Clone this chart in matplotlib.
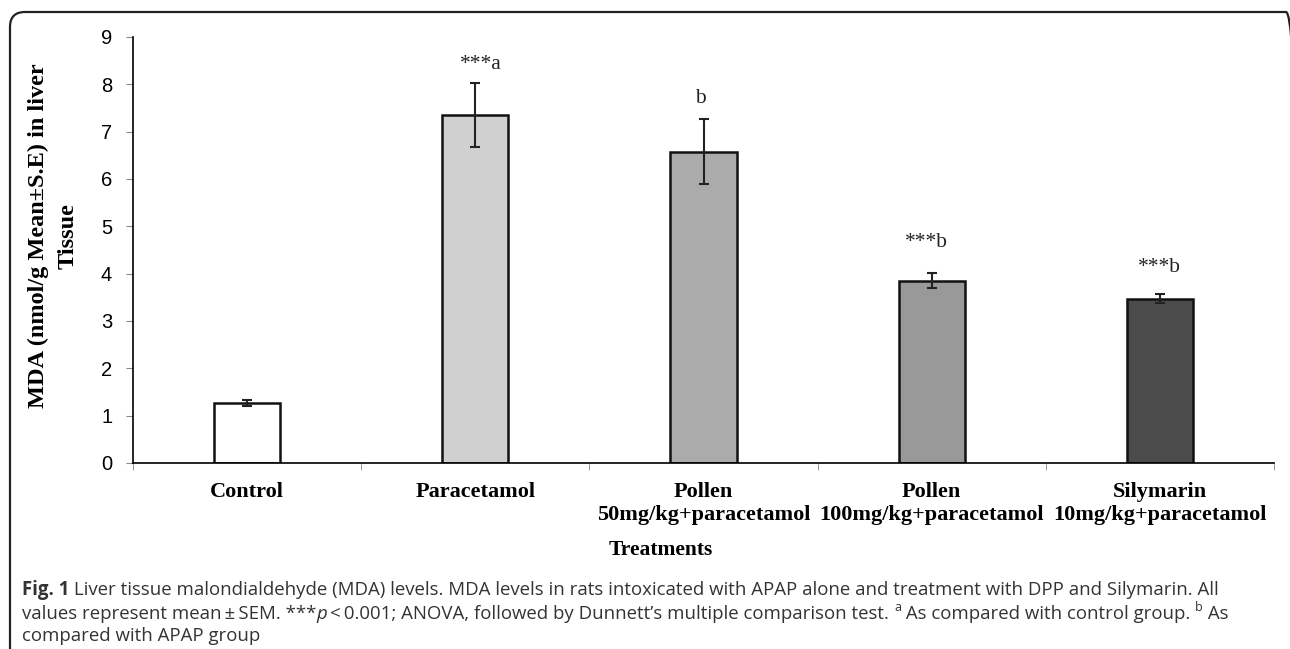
import numpy as np
import matplotlib.pyplot as plt
from matplotlib.patches import FancyBboxPatch

# Group names, means and standard errors
groups = ['Control', 'Paracetamol', 'Pollen\n50mg/kg+paracetamol',
          'Pollen\n100mg/kg+paracetamol', 'Silymarin\n10mg/kg+paracetamol']
means = [1.27, 7.35, 6.58, 3.85, 3.47]
sems = [0.06, 0.68, 0.68, 0.16, 0.10]
marks = ['', '***a', 'b', '***b', '***b']
bar_colors = ['#ffffff', '#d0d0d0', '#ababab', '#999999', '#4b4b4b']

# per-bar placement of the significance marks (points: dx, gap above error bar)
mark_dx = [0, 4, -2, -4, 0]
mark_gap = [0, 10, 12, 19, 16]

fig = plt.figure(figsize=(12.9, 6.49), dpi=100)

# rounded frame around the figure panel (right and bottom edges run off the page)
frame = FancyBboxPatch((0.10, -0.5), 12.91, 6.87, transform=fig.dpi_scale_trans,
                       boxstyle='round,pad=0,rounding_size=0.15',
                       fill=False, edgecolor='#222222', linewidth=1.6)
fig.patches.append(frame)

ax = fig.add_axes([0.1031, 0.2866, 0.8845, 0.6564])
x = np.arange(len(groups))
ax.bar(x, means, width=0.29, color=bar_colors, edgecolor='#111111', linewidth=1.8,
       yerr=sems, error_kw=dict(ecolor='#222222', elinewidth=1.5, capsize=3.5, capthick=1.5))

for xi, m, s, t, dx, gap in zip(x, means, sems, marks, mark_dx, mark_gap):
    if t:
        ax.annotate(t, (xi, m + s), xytext=(dx, gap), textcoords='offset points',
                    ha='center', va='baseline', fontsize=15.5, family='Liberation Serif',
                    color='#222222')

ax.set_xlim(-0.5, len(groups) - 0.5)
ax.set_ylim(0, 9)
ax.set_yticks(range(10))
ax.tick_params(axis='y', length=5, color='#888888', pad=10, labelsize=14.5)
for lab in ax.get_yticklabels():
    lab.set_family('Liberation Sans')

ax.set_xticks(x)
ax.set_xticklabels(groups, family='Liberation Serif', fontweight='bold', fontsize=16,
                   linespacing=1.2)
ax.tick_params(axis='x', which='major', length=0, pad=14)
ax.set_xticks(np.arange(len(groups) + 1) - 0.5, minor=True)
ax.tick_params(axis='x', which='minor', length=5, color='#888888')

for side in ['top', 'right']:
    ax.spines[side].set_visible(False)
ax.spines['left'].set_linewidth(1.2)
ax.spines['bottom'].set_linewidth(1.2)

ax.set_ylabel('MDA (nmol/g Mean±S.E) in liver\nTissue', family='Liberation Serif',
              fontweight='bold', fontsize=17.5, linespacing=1.5)
ax.yaxis.set_label_coords(-0.048, 0.533)
fig.text(0.512, 0.152, 'Treatments', family='Liberation Serif', fontweight='bold',
         fontsize=15.5, ha='center', va='center')

# caption, written piece by piece so the bold, italic and superscript parts line up
cap = dict(family='Open Sans', fontsize=13.4, color='#333333', va='baseline')
renderer = fig.canvas.get_renderer()


def write_line(pieces, y, x0=0.0171):
    xpos = x0
    for txt, extra in pieces:
        kw = dict(cap)
        kw.update(extra)
        yy = y
        if kw.pop('sup', False):
            kw['fontsize'] = 9
            yy = y + 0.013
        t = fig.text(xpos, yy, txt, **kw)
        bb = t.get_window_extent(renderer)
        xpos += bb.width / fig.bbox.width


write_line([('Fig. 1', {'fontweight': 'bold'}),
            (' Liver tissue malondialdehyde (MDA) levels. MDA levels in rats intoxicated with '
             'APAP alone and treatment with DPP and Silymarin. All', {})], 0.083)
write_line([('values represent mean\u2009±\u2009SEM. ***', {}), ('p', {'style': 'italic'}),
            ('\u2009<\u20090.001; ANOVA, followed by Dunnett\u2019s multiple comparison test. ', {}),
            ('a', {'sup': True}), (' As compared with control group. ', {}),
            ('b', {'sup': True}), (' As', {})], 0.046)
write_line([('compared with APAP group', {})], 0.012)

fig.savefig('out.png', dpi=100)
